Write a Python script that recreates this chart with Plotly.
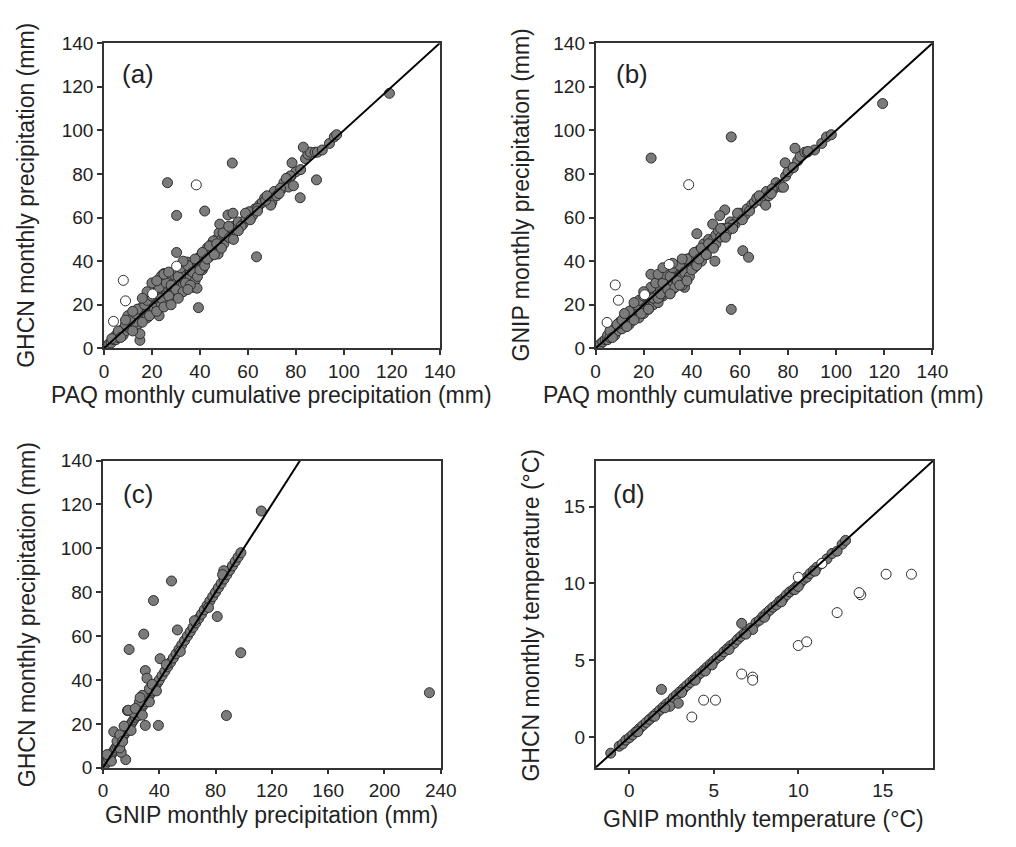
import plotly.graph_objects as go

# ---------------- data ----------------
# Panel (a): PAQ (x) vs GHCN (y), filled markers
a_fill_x = [1, 2, 3, 4, 5, 5, 6, 7, 8, 8, 9, 10, 10, 11, 12, 12, 13, 14, 14, 15, 15, 16, 16, 17, 18, 18,
            19, 20, 20, 21, 21, 22, 22, 23, 24, 24, 25, 25, 26, 26, 27, 27, 28, 28, 29, 29, 30, 31, 31,
            32, 32, 33, 33, 34, 34, 35, 36, 36, 37, 37, 38, 38, 39, 40, 40, 41, 42, 42, 43, 44, 45, 45,
            46, 47, 48, 48, 49, 50, 50, 51, 52, 53, 54, 55, 56, 58, 60, 62, 63, 65, 66, 67, 70, 71, 72,
            74, 75, 77, 78, 80, 82, 84, 85, 86, 88, 89, 91, 94, 96, 97, 119,
            53.5, 26.5, 30.3, 42, 30.3, 63.6, 39.4, 15, 15, 23, 88.6, 81.8, 83.1, 78.4, 69.5, 24.4,
            60.6, 51.7, 53.8, 48.3, 57.2, 45.6, 44.2, 47.6, 40.0, 38.8, 22.4, 27.8, 14.2, 10, 12.8, 6,
            3.3, 77.7, 79, 73.6, 67.4, 64, 59.2, 49.7, 52.4, 42.9, 41.5, 34.7, 36, 32, 25, 23.7, 17,
            6, 7, 9, 11, 12, 13, 14, 16, 17, 18, 19, 20, 21, 22, 23, 24, 25, 26, 27, 28, 29, 30, 31,
            32, 33, 34, 35, 36, 37, 38, 39, 40, 41, 42, 43, 44, 46, 47, 49, 52, 54, 56, 59, 61, 64,
            68, 73, 76, 20, 18, 25, 33, 28, 35, 31, 12, 9, 16, 22, 27]
a_fill_y = [1, 2, 2.5, 4, 4, 6, 5, 7, 6, 9, 8, 10, 12, 9, 11, 14, 12, 15, 11, 13, 17, 15, 19, 16, 18, 14,
            21, 19, 16, 22, 18, 20, 24, 22, 26, 20, 23, 28, 25, 21, 27, 30, 24, 33, 29, 26, 31, 28, 35,
            30, 26, 34, 29, 32, 37, 30, 36, 33, 28, 39, 35, 31, 40, 38, 42, 36, 44, 40, 46, 42, 48, 44,
            46, 50, 47, 53, 50, 52, 48, 54, 51, 55, 56, 55, 58, 57, 62, 61, 64, 66, 67, 69, 67, 72, 70,
            73, 76, 74, 79, 81, 82, 87, 89, 90, 90, 90, 91, 94, 97, 98, 117,
            85, 76, 61, 63, 44, 42, 18.7, 3.7, 6.7, 15, 77.3, 69.1, 92.3, 85.1, 65.7, 33.7,
            62.7, 61.2, 62, 57, 56, 49.3, 47, 43.3, 40.3, 27.6, 26.9, 28.4, 17.9, 15, 12, 7.5,
            4.5, 79.1, 74.6, 73.5, 67.9, 64.2, 59.7, 53, 50.8, 41.8, 37.3, 39.6, 35.8, 33.6, 34.3, 32.8, 22.4,
            8, 5, 11, 13, 8, 16, 18, 12, 20, 22, 15, 24, 25, 17, 28, 23, 19, 30, 24, 29, 34, 27, 33,
            37, 26, 30, 38, 29, 35, 41, 33, 36, 44, 38, 41, 47, 43, 48, 46, 56, 50, 54, 62, 59, 63,
            70, 71, 78, 30, 26, 34, 40, 20, 27, 23, 17, 13, 23, 31, 35]
# Panel (a): open markers
a_open_x = [38.5, 30.3, 8.1, 9.0, 4.0, 20.3]
a_open_y = [75, 37.7, 31.2, 21.8, 12.4, 25.0]

# Panel (b): PAQ (x) vs GNIP (y), filled markers
b_fill_x = [1, 2, 3, 4, 5, 5, 6, 7, 8, 8, 9, 10, 10, 11, 12, 12, 13, 14, 14, 15, 15, 16, 16, 17, 18, 18,
            19, 20, 20, 21, 21, 22, 22, 23, 24, 24, 25, 25, 26, 26, 27, 27, 28, 28, 29, 29, 30, 31, 31,
            32, 32, 33, 33, 34, 34, 35, 36, 36, 37, 37, 38, 38, 39, 40, 40, 41, 42, 43, 44, 45, 45,
            46, 47, 48, 49, 50, 50, 51, 52, 53, 55, 56, 58, 60, 62, 63, 65, 66, 67, 70, 71, 72,
            74, 75, 77, 79, 80, 82, 84, 85, 87, 88, 91, 94, 96, 98, 119.3,
            56.4, 23.1, 42.1, 61.2, 63.6, 56.4, 82.9, 78.8, 88.3, 82.2, 76.8, 78.1, 73.4, 68.6, 70.7,
            59.1, 53.7, 51.6, 48.7, 57, 55, 54.4, 49.6, 44, 46, 38, 35, 30, 27, 22,
            6, 7, 9, 11, 13, 14, 16, 17, 18, 19, 20, 21, 22, 23, 24, 25, 26, 27, 28, 29, 30, 31,
            32, 33, 34, 35, 36, 37, 38, 39, 40, 41, 42, 43, 44, 46, 47, 49, 52, 54, 57, 59, 61,
            64, 68, 73, 23, 26, 28, 32, 35, 38, 31, 12, 16, 20, 36]
b_fill_y = [1, 2, 3, 4, 4, 6, 5, 7, 6, 9, 8, 10, 12, 9, 11, 14, 12, 15, 11, 13, 17, 15, 19, 16, 18, 14,
            21, 19, 16, 22, 18, 20, 24, 21, 26, 20, 23, 29, 25, 21, 27, 31, 24, 34, 29, 26, 31, 28, 35,
            30, 27, 34, 29, 32, 37, 30, 36, 33, 28, 40, 35, 32, 41, 38, 42, 37, 44, 45, 42, 48, 44,
            46, 50, 47, 50, 52, 48, 54, 51, 55, 55, 58, 57, 62, 61, 64, 66, 67, 69, 67, 72, 70,
            73, 76, 74, 79, 81, 83, 86, 88, 90, 90, 91, 94, 97, 98, 112.3,
            97, 87.3, 52.6, 44.8, 41.8, 17.9, 91.8, 85.1, 90.3, 82.9, 75, 73.9, 73.2, 67.9, 65.7,
            59.7, 63.5, 60.9, 57, 56.7, 55.2, 53, 40, 40, 43, 36, 33, 29, 24, 18,
            8, 5, 11, 13, 10, 17, 13, 20, 22, 16, 24, 25, 18, 28, 23, 30, 23, 25, 30, 34, 27, 33,
            37, 28, 31, 38, 29, 35, 41, 33, 36, 44, 38, 41, 46, 43, 48, 46, 55, 51, 55, 62, 59,
            63, 70, 71, 34, 34, 37, 39, 29, 31, 25, 16, 21, 26, 41]
# Panel (b): open markers
b_open_x = [38.7, 30.6, 8.2, 9.5, 20.4, 4.8]
b_open_y = [75.1, 38.5, 29.1, 22.1, 24.6, 11.9]

# Panel (c): GNIP (x) vs GHCN (y)
c_x = [1, 2, 3, 4, 5, 6, 7, 8, 9, 10, 11, 12, 13, 14, 15, 16, 17, 18, 19, 20, 21, 22, 23, 24, 25, 26,
       27, 28, 29, 30, 31, 32, 33, 34, 35, 36, 37, 38, 39, 40, 42, 44, 46, 48, 50, 52, 54, 56, 58,
       60, 62, 64, 66, 68, 70, 72, 74, 76, 78, 80, 82, 84, 86, 88, 90, 92, 94, 96, 98,
       112.5, 85.8, 48.7, 35.9, 52.9, 29, 18.6, 97.9, 81.2, 30.1, 31.3, 40.6, 39.4, 87.7, 231.9,
       30.1, 25.5, 17.4, 16.2, 13, 12, 28, 33, 26, 22,
       7.7, 18, 26.4, 10, 12, 14, 20, 23, 35, 38, 45, 55, 65, 75, 85, 6, 3, 15, 28, 33]
c_y = [1, 2, 3, 4, 5, 6, 7, 8, 9, 10, 11, 12, 13, 14, 15, 16, 17, 18, 19, 20, 21, 22, 23, 24, 25, 26,
       27, 28, 29, 30, 31, 32, 33, 34, 35, 36, 37, 38, 39, 40, 42, 44, 46, 48, 50, 52, 54, 56, 58,
       60, 62, 64, 66, 68, 70, 72, 74, 76, 78, 80, 82, 84, 86, 88, 90, 92, 94, 96, 98,
       117, 89.8, 85.1, 76.2, 62.8, 60.9, 53.9, 52.4, 68.9, 44.3, 40.8, 49.7, 19.3, 23.8, 34.2,
       19.3, 23.8, 26, 3.7, 7, 9, 33, 36, 30, 25,
       16.4, 26.2, 32, 12, 15, 12, 17, 27, 38, 35, 47, 53, 67, 73, 88, 3, 6, 19, 24, 30]

# Panel (d): GNIP temperature (x) vs GHCN temperature (y), filled markers
d_fill_x = [-1.1, -0.6, -0.4, -0.2, 0.0, 0.2, 0.4, 0.6, 0.8, 1.0, 1.2, 1.4, 1.6, 1.8, 2.0, 2.2, 2.4,
            2.6, 2.8, 3.0, 3.2, 3.4, 3.6, 3.8, 4.0, 4.2, 4.4, 4.6, 4.8, 5.0, 5.2, 5.4, 5.6, 5.8, 6.0,
            6.2, 6.4, 6.6, 6.8, 7.0, 7.2, 7.5, 7.7, 7.9, 8.1, 8.3, 8.5, 8.7, 8.9, 9.1, 9.3, 9.5, 9.7,
            9.9, 10.1, 10.3, 10.5, 10.7, 10.9, 11.1, 11.4, 11.7, 12.0, 12.6, 12.8,
            6.65, 1.9, 2.9, 2.4, 4.5, 7.3, 9.8,
            0.5, 1.5, 2.1, 3.1, 3.9, 4.9, 5.9, 6.9, 8.0, 9.0, 10.0, 11.0, 12.3]
d_fill_y = [-1.05, -0.6, -0.45, -0.2, -0.05, 0.15, 0.35, 0.55, 0.75, 0.95, 1.15, 1.35, 1.55, 1.75,
            1.95, 2.15, 2.3, 2.55, 2.75, 2.95, 3.15, 3.35, 3.55, 3.75, 3.95, 4.15, 4.35, 4.55, 4.75,
            4.95, 5.15, 5.3, 5.55, 5.75, 5.95, 6.1, 6.35, 6.55, 6.75, 6.95, 7.1, 7.45, 7.6, 7.85, 8.05,
            8.25, 8.45, 8.6, 8.85, 9.0, 9.25, 9.45, 9.6, 9.8, 10.0, 10.25, 10.4, 10.65, 10.85, 11.05,
            11.3, 11.6, 11.95, 12.55, 12.8,
            7.4, 3.1, 2.2, 2.0, 4.3, 7.0, 9.6,
            0.35, 1.35, 1.9, 2.9, 3.7, 4.7, 5.7, 6.7, 7.8, 8.8, 9.8, 10.8, 12.1]
# Panel (d): open markers
d_open_x = [15.2, 16.7, 13.7, 13.6, 12.3, 10.0, 10.5, 6.65, 7.3, 7.3, 4.4, 5.1, 3.7, 10.0, 11.4]
d_open_y = [10.6, 10.6, 9.26, 9.4, 8.1, 5.96, 6.2, 4.1, 3.9, 3.7, 2.4, 2.4, 1.3, 10.4, 11.3]

prec_range = [0, 140]
temp_range = [-2, 18]
c_xrange = [0, 240]
prec_ticks = [0, 20, 40, 60, 80, 100, 120, 140]
c_xticks = [0, 40, 80, 120, 160, 200, 240]
temp_ticks = [0, 5, 10, 15]

# ---------------- figure ----------------
W, H = 1016, 847
FILL = "#7b7b7b"
EDGE = "#2e2e2e"
FONT = "Liberation Sans, Arial, sans-serif"

fig = go.Figure()

def add_panel(fx, fy, ox, oy, xa, ya, line_range):
    xs = "x" if xa == 1 else f"x{xa}"
    ys = "y" if ya == 1 else f"y{ya}"
    fig.add_trace(go.Scatter(x=fx, y=fy, mode="markers", xaxis=xs, yaxis=ys, showlegend=False,
                             marker=dict(size=10, color=FILL, line=dict(color=EDGE, width=1))))
    if ox:
        fig.add_trace(go.Scatter(x=ox, y=oy, mode="markers", xaxis=xs, yaxis=ys, showlegend=False,
                                 marker=dict(size=10, color="white", line=dict(color=EDGE, width=1))))
    fig.add_trace(go.Scatter(x=line_range, y=line_range, mode="lines",
                             line=dict(color="black", width=2), xaxis=xs, yaxis=ys,
                             showlegend=False, hoverinfo="skip"))

add_panel(a_fill_x, a_fill_y, a_open_x, a_open_y, 1, 1, prec_range)
add_panel(b_fill_x, b_fill_y, b_open_x, b_open_y, 2, 2, prec_range)
add_panel(c_x, c_y, None, None, 3, 3, prec_range)
add_panel(d_fill_x, d_fill_y, d_open_x, d_open_y, 4, 4, temp_range)

def px_dom(a, b, total):
    return [a / total, b / total]

def py_dom(top, bottom):
    return [1 - bottom / H, 1 - top / H]

axis_common = dict(showline=True, linecolor="#333333", linewidth=1.5, mirror=True,
                   ticks="outside", ticklen=5, tickwidth=1.5, tickcolor="#333333",
                   showgrid=False, zeroline=False, tickfont=dict(family=FONT, size=19, color="#222"),
                   fixedrange=True)

fig.update_layout(
    width=W, height=H, margin=dict(l=0, r=0, t=0, b=0),
    paper_bgcolor="white", plot_bgcolor="white",
    xaxis=dict(domain=px_dom(101, 444, W), range=prec_range, tickvals=prec_ticks, anchor="y", **axis_common),
    yaxis=dict(domain=py_dom(34, 347), range=prec_range, tickvals=prec_ticks, anchor="x", **axis_common),
    xaxis2=dict(domain=px_dom(603, 947, W), range=prec_range, tickvals=prec_ticks, anchor="y2", **axis_common),
    yaxis2=dict(domain=py_dom(34, 347), range=prec_range, tickvals=prec_ticks, anchor="x2", **axis_common),
    xaxis3=dict(domain=px_dom(100, 445, W), range=c_xrange, tickvals=c_xticks, anchor="y3", **axis_common),
    yaxis3=dict(domain=py_dom(462, 777), range=prec_range, tickvals=prec_ticks, anchor="x3", **axis_common),
    xaxis4=dict(domain=px_dom(603, 948, W), range=temp_range, tickvals=temp_ticks, anchor="y4", **axis_common),
    yaxis4=dict(domain=py_dom(462, 777), range=temp_range, tickvals=temp_ticks, anchor="x4", **axis_common),
)

def ann(text, xpx, ypx, size, angle=0):
    fig.add_annotation(text=text, x=xpx / W, y=1 - ypx / H, xref="paper", yref="paper",
                       showarrow=False, textangle=angle, xanchor="center", yanchor="middle",
                       font=dict(family=FONT, size=size, color="#222"))

TS = 23
ann("PAQ monthly cumulative precipitation (mm)", 272, 395, TS)
ann("PAQ monthly cumulative precipitation (mm)", 775, 395, TS)
ann("GNIP monthly precipitation (mm)", 272, 825, TS)
ann("GNIP monthly temperature (°C)", 775, 830, TS)
ann("GHCN monthly precipitation (mm)", 22, 190, TS, -90)
ann("GNIP monthly precipitation (mm)", 527, 190, TS, -90)
ann("GHCN monthly precipitation (mm)", 22, 620, TS, -90)
ann("GHCN monthly temperature (°C)", 537, 620, TS, -90)

ann("(a)", 136, 66, 26)
ann("(b)", 640, 66, 26)
ann("(c)", 136, 496, 26)
ann("(d)", 637, 496, 26)

fig.write_html("out.html")
